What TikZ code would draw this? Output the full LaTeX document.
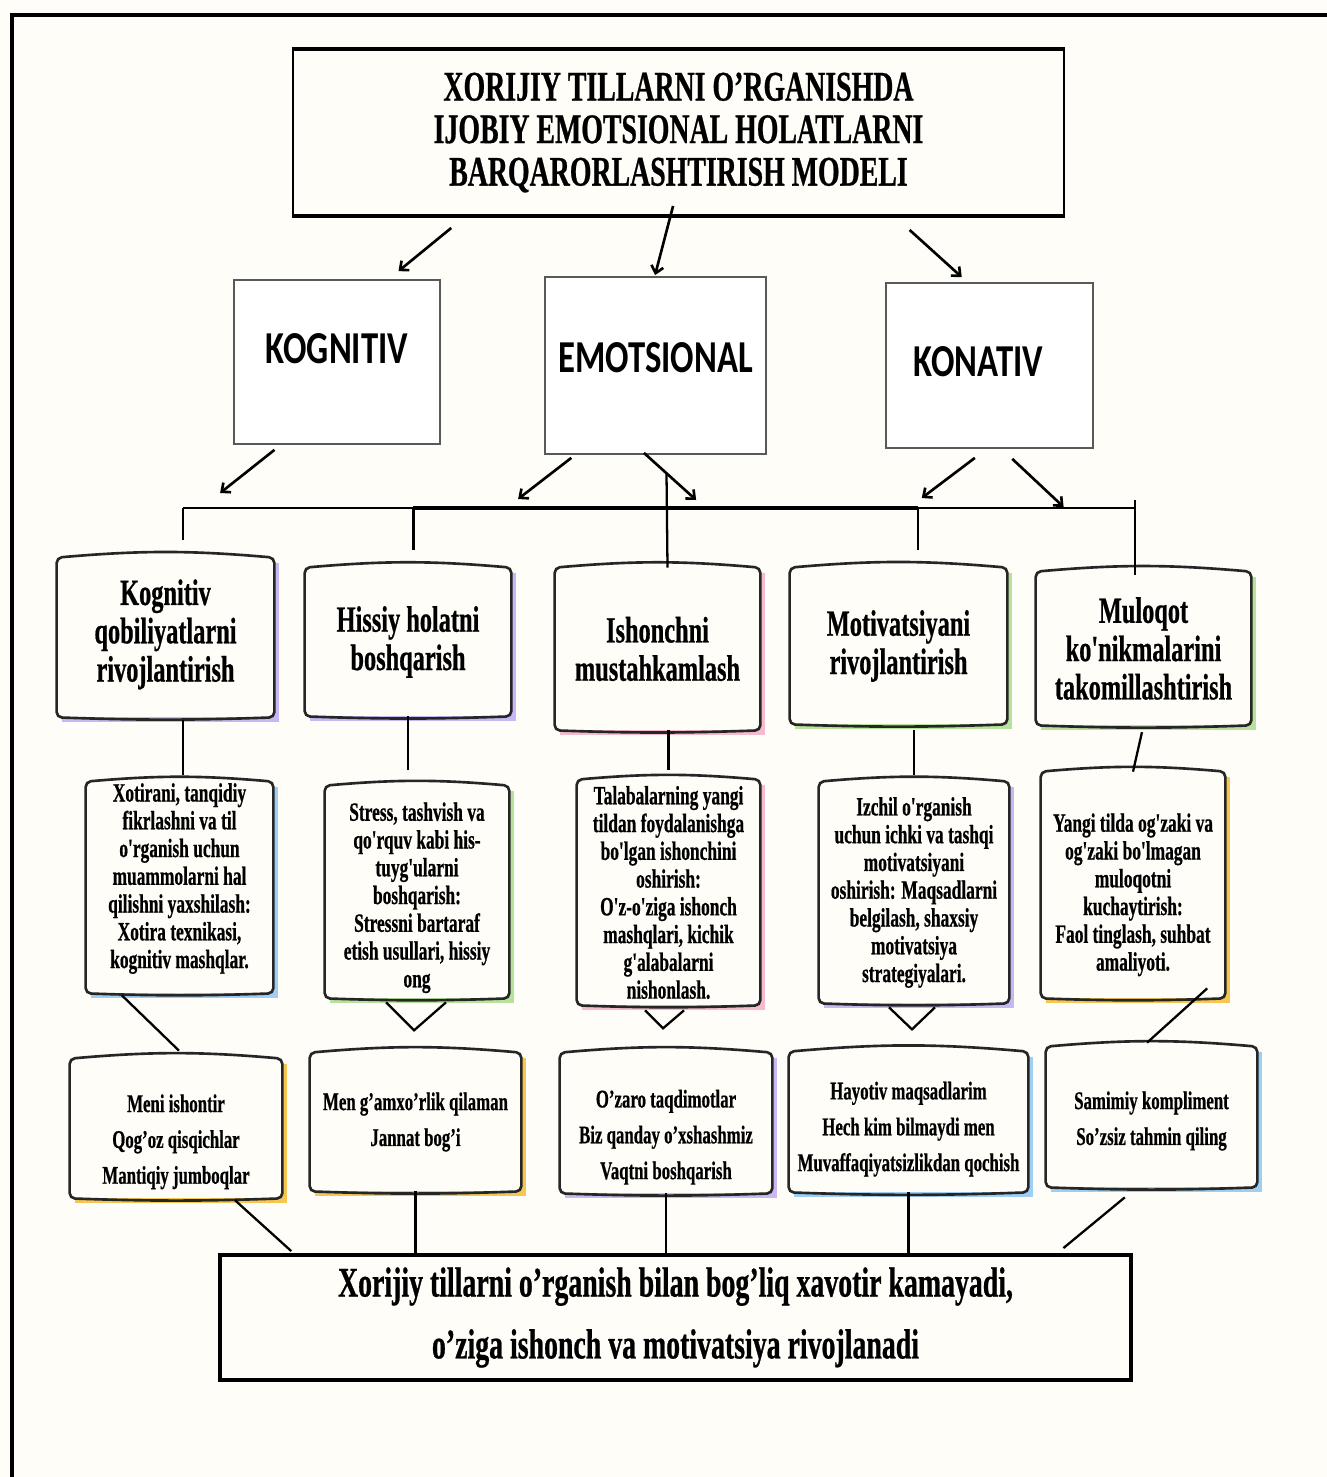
\documentclass[tikz,border=0pt]{standalone}
\usepackage{fontspec}
\usepackage{tikz}
\usetikzlibrary{arrows.meta,calc,shadows}
\newfontfamily\serifcond{Liberation Serif}[FakeStretch=0.66, FakeBold=0.6, Ligatures=TeXOff]
\newfontfamily\sanscond{Carlito}[FakeStretch=0.76]
\definecolor{paper}{HTML}{FEFDF8}
\definecolor{lav}{HTML}{C9B7F3}
\definecolor{rose}{HTML}{F5BACD}
\definecolor{leaf}{HTML}{B7E29B}
\definecolor{sky}{HTML}{9ECFF2}
\definecolor{amber}{HTML}{F6C653}
\def\pu{0.02cm}

\begin{document}
\begin{tikzpicture}[x=0.02cm, y=-0.02cm,
    wh/.style 2 args={minimum width=#1*\pu, minimum height=#2*\pu}]
    \tikzstyle{every node} = [inner sep=0pt, align=center]
    \tikzstyle{headbox} = [draw, line width=1.1pt, fill=paper, font=\serifcond\bfseries\fontsize{24}{24.2}\selectfont]
    \tikzstyle{areabox} = [draw=black!65, line width=1pt, fill=white, font=\sanscond\bfseries\fontsize{26}{28}\selectfont]
    \tikzstyle{card} = [fill=paper, drop shadow={shadow xshift=2.8pt, shadow yshift=-2.8pt, fill=#1, opacity=1}]
    \tikzstyle{skill} = [card=#1, font=\serifcond\bfseries\fontsize{21}{21.8}\selectfont]
    \tikzstyle{info} = [card=#1, font=\serifcond\bfseries\fontsize{15}{15.8}\selectfont]
    \tikzstyle{games} = [card=#1, font=\serifcond\bfseries\fontsize{14.5}{20.4}\selectfont]
    \tikzstyle{resultbox} = [draw, line width=2.2pt, fill=paper, font=\serifcond\bfseries\fontsize{24}{35.2}\selectfont]
    \tikzstyle{sketch} = [draw=black!85, line width=1.5pt, rounded corners=3pt]
    \tikzstyle{arr} = [-{Straight Barb[length=4pt,width=7pt]}, line width=1.5pt]
    \tikzstyle{link} = [line width=1.3pt]

    \fill[paper] (0,0) rectangle (1327,1477);
    \useasboundingbox (0,0) rectangle (1327,1477);
    \draw[line width=1.8pt] (12,1477) -- (12,15) -- (1327,15);

    % place nodes
    \node[headbox, wh={771}{165}] (title) at (678.5,132.5)
        {XORIJIY TILLARNI O’RGANISHDA\\IJOBIY EMOTSIONAL HOLATLARNI\\BARQARORLASHTIRISH MODELI};
    \draw[line width=2.6pt] (title.north west) -- (title.north east) (title.south west) -- (title.south east);

    \node[areabox, wh={206}{164}, text depth=15.9pt] (kog) at (337,362) {KOGNITIV};
    \node[areabox, wh={221}{177}, text depth=9.6pt] (emo) at (655.5,365.5) {EMOTSIONAL};
    \node[areabox, wh={207}{165}, text depth=4pt] (kon) at (989.5,365.5) {KONATIV\hspace*{12.5pt}};

    \node[skill=lav, wh={217}{159}, text depth=8pt] (cogSkill) at (165.5,637.5) {Kognitiv\\qobiliyatlarni\\rivojlantirish};
    \node[skill=lav, wh={206}{148}] (emoSkill) at (408,642) {Hissiy holatni\\boshqarish};
    \node[skill=rose, wh={205}{162}] (trustSkill) at (657.5,649) {Ishonchni\\mustahkamlash};
    \node[skill=leaf, wh={217}{156}] (motivSkill) at (898.5,646) {Motivatsiyani\\rivojlantirish};
    \node[skill=leaf, wh={215}{153}] (commSkill) at (1143.5,648.5) {Muloqot\\ko'nikmalarini\\takomillashtirish};

    \node[info=sky, wh={187}{211}, text depth=13.5pt] (cogInfo) at (179.5,887.5)
        {Xotirani, tanqidiy\\fikrlashni va til\\o'rganish uchun\\muammolarni hal\\qilishni yaxshilash:\\Xotira texnikasi,\\kognitiv mashqlar.};
    \node[info=leaf, wh={184}{212}, text height=111.8pt] (emoInfo) at (417,892)
        {Stress, tashvish va\\qo'rquv kabi his-\\tuyg'ularni\\boshqarish:\\Stressni bartaraf\\etish usullari, hissiy\\ong};
    \node[info=rose, wh={183}{225}] (trustInfo) at (668.5,892.5)
        {Talabalarning yangi\\tildan foydalanishga\\bo'lgan ishonchini\\oshirish:\\O'z-o'ziga ishonch\\mashqlari, kichik\\g'alabalarni\\nishonlash.};
    \node[info=lav, wh={190}{221}] (motivInfo) at (914,892.5)
        {Izchil o'rganish\\uchun ichki va tashqi\\motivatsiyani\\oshirish: Maqsadlarni\\belgilash, shaxsiy\\motivatsiya\\strategiyalari.};
    \node[info=amber, wh={184}{226}, text height=100.6pt] (commInfo) at (1133,885)
        {Yangi tilda og'zaki va\\og'zaki bo'lmagan\\muloqotni\\kuchaytirish:\\Faol tinglash, suhbat\\amaliyoti.};

    \node[games=amber, wh={212}{139}, text height=66pt] (cogGames) at (176,1128.5)
        {Meni ishontir\\Qog’oz qisqichlar\\Mantiqiy jumboqlar};
    \node[games=amber, wh={211}{138}] (emoGames) at (415.5,1122)
        {Men g’amxo’rlik qilaman\\Jannat bog’i};
    \node[games=lav, wh={212}{140}, text height=67pt] (trustGames) at (666,1123)
        {O’zaro taqdimotlar\\Biz qanday o’xshashmiz\\Vaqtni boshqarish};
    \node[games=sky, wh={239}{140}, text height=59pt] (motivGames) at (908.5,1122)
        {Hayotiv maqsadlarim\\Hech kim bilmaydi men\\Muvaffaqiyatsizlikdan qochish};
    \node[games=sky, wh={211}{140}, text height=35pt] (commGames) at (1151.5,1117)
        {Samimiy kompliment\\So’zsiz tahmin qiling};

    \node[resultbox, wh={911}{125}] (goal) at (675.5,1317.5)
        {Xorijiy tillarni o’rganish bilan bog’liq xavotir kamayadi,\\o’ziga ishonch va motivatsiya rivojlanadi};

    % hand drawn outlines
    \foreach \n in {cogSkill,emoSkill,trustSkill,motivSkill,commSkill,
                    cogInfo,emoInfo,trustInfo,motivInfo,commInfo,
                    cogGames,emoGames,trustGames,motivGames,commGames}
        \draw[sketch] (\n.north west) to[bend left=5] (\n.north east) -- (\n.south east)
            to[bend left=2] (\n.south west) -- cycle;

    % Connections
    \draw[arr] ($(title.south west)!.206!(title.south east)+(0,12)$) -- ($(kog.north west)!.796!(kog.north east)+(0,-8)$);
    \draw[arr] ($(title.south west)!.493!(title.south east)+(0,-10)$) -- ($(emo.north west)!.498!(emo.north east)+(0,-1)$);
    \draw[arr] ($(title.south west)!.799!(title.south east)+(0,14)$) -- ($(kon.north west)!.367!(kon.north east)+(0,-5)$);

    \coordinate (busW) at (183,508);
    \coordinate (busE) at (1135,508);
    \draw[link] (busW) -- (busE);
    \draw[line width=2.2pt] ($(busW)!.242!(busE)$) -- ($(busW)!.772!(busE)$);

    \draw[arr] ($(kog.south west)!.199!(kog.south east)+(0,5)$) -- ($(busW)!.039!(busE)+(0,-15)$);
    \draw[arr] ($(emo.south west)!.122!(emo.south east)+(0,3)$) -- ($(busW)!.352!(busE)+(0,-9)$);
    \draw[arr] ($(emo.south west)!.448!(emo.south east)+(0,-2)$) -- ($(busW)!.539!(busE)+(0,-8)$);
    \draw[arr] ($(kon.south west)!.430!(kon.south east)+(0,9)$) -- ($(busW)!.776!(busE)+(0,-10)$);
    \draw[arr] ($(kon.south west)!.609!(kon.south east)+(0,10)$) -- ($(busW)!.925!(busE)+(0,-1)$);

    \draw[link] (busW) -- ++(0,32);
    \draw[link] ($(busW)!.242!(busE)$) -- ++(0,42);
    \draw[link] ($(emo.south)+(11,18)$) -- ($(trustSkill.north)+(10,0)$);
    \draw[link] ($(busW)!.772!(busE)$) -- ++(0,42);
    \draw[link] ($(busE)+(0,-8)$) -- ($(busE |- commSkill.north)+(0,3)$);

    \draw[link, shorten <=1.7pt, shorten >=4pt] (cogSkill.south -| busW) -- (cogInfo.north -| busW);
    \draw[link, shorten >=9pt] (emoSkill.south) -- (emoSkill.south |- emoInfo.north);
    \draw[link, shorten >=5.7pt] (trustInfo.north |- trustSkill.south) -- (trustInfo.north);
    \draw[link, shorten <=3.4pt, shorten >=4pt] (motivInfo.north |- motivSkill.south) -- (motivInfo.north);
    \draw[link, shorten <=4pt] (commSkill.south) -- (commInfo.north);

    \draw[link] ($(cogInfo.south west)!.193!(cogInfo.south east)+(0,2)$) -- ($(cogGames.north west)!.514!(cogGames.north east)+(0,-8)$);
    \draw[link] ($(emoInfo.south)+(-31,4)$) -- ++(28,28) -- ++(32,-28);
    \draw[link] ($(trustInfo.south)+(-23.5,5)$) -- ++(18,18) -- ++(21,-18);
    \draw[link] ($(motivInfo.south)+(-25,4)$) -- ++(23,22) -- ++(23,-22);
    \draw[link] ($(commInfo.south west)!.902!(commInfo.south east)+(0,-10)$) -- ($(commGames.north west)!.479!(commGames.north east)+(0,-4)$);

    \draw[link] ($(cogGames.south west)!.778!(cogGames.south east)+(0,2)$) -- ($(goal.north west)!.080!(goal.north east)+(0,-2)$);
    \draw[link] (emoGames.south) -- (emoGames.south |- goal.north);
    \draw[link] (trustGames.south) -- (trustGames.south |- goal.north);
    \draw[link] (motivGames.south) -- (motivGames.south |- goal.north);
    \draw[link] ($(commGames.south west)!.374!(commGames.south east)+(0,10)$) -- ($(goal.north west)!.924!(goal.north east)+(0,-5)$);

\end{tikzpicture}
\end{document}
